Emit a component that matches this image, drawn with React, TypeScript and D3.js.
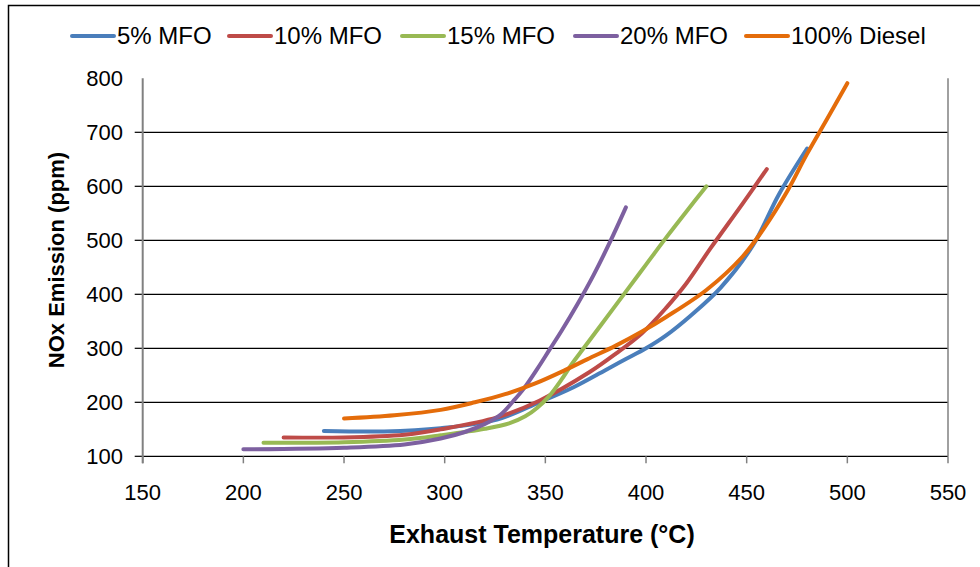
import React from "react";
import * as d3 from "d3";

const seriesNames = ["5% MFO", "10% MFO", "15% MFO", "20% MFO", "100% Diesel"];
const seriesColors = ["#4A7EBB", "#BE4B48", "#98B954", "#7D60A0", "#E46C0A"];

const mfo5: [number, number][] = [
  [240, 147], [270, 146], [298, 152], [326, 168], [347, 200], [364, 228], [380, 260],
  [390, 280], [400, 300], [410, 324], [422, 360], [437, 412], [453, 490], [466, 585], [480, 670],
];
const mfo10: [number, number][] = [
  [220, 135], [250, 135], [280, 140], [298, 150], [326, 172], [347, 203], [372, 256],
  [385, 290], [398, 328], [410, 375], [420, 420], [432, 485], [448, 568], [460, 632],
];
const mfo15: [number, number][] = [
  [210, 125], [250, 126], [280, 131], [298, 139], [320, 151], [332, 161], [340, 174],
  [346, 190], [352, 212], [358, 242], [363, 270], [369, 300], [377, 340], [390, 405],
  [400, 455], [410, 505], [420, 553], [430, 600],
];
const mfo20: [number, number][] = [
  [200, 113], [250, 116], [280, 122], [298, 133], [310, 145], [320, 160], [328, 178],
  [334, 202], [339, 224], [346, 262], [352, 297], [358, 332], [366, 382], [374, 436],
  [382, 496], [390, 561],
];
const diesel: [number, number][] = [
  [250, 170], [275, 176], [298, 186], [315, 200], [330, 215], [345, 235], [360, 260],
  [371, 280], [385, 305], [398, 331], [410, 358], [430, 408], [448, 470], [458, 519],
  [470, 590], [480, 660], [490, 725], [500, 791],
];
const seriesData = [mfo5, mfo10, mfo15, mfo20, diesel];

const xTicks = [150, 200, 250, 300, 350, 400, 450, 500, 550];
const yTicks = [100, 200, 300, 400, 500, 600, 700, 800];
const gridValues = [200, 300, 400, 500, 600, 700];

const legendLineX = [72, 229, 402, 575, 746];

export default function App() {
  const x = d3.scaleLinear().domain([150, 550]).range([142.7, 948]);
  const y = d3.scaleLinear().domain([100, 800]).range([456.3, 78.3]);
  const line = d3
    .line<[number, number]>()
    .x((d) => x(d[0]))
    .y((d) => y(d[1]))
    .curve(d3.curveCatmullRom.alpha(0.5));

  const font = "'Liberation Sans', Arial, sans-serif";

  return (
    <svg
      width={980}
      height={567}
      style={{ position: "absolute", left: 0, top: 0, background: "#fff" }}
      fontFamily={font}
    >
      <rect x={0} y={0} width={980} height={567} fill="#fff" />
      <rect x={8.5} y={5.5} width={1100} height={1100} fill="none" stroke="#000" strokeWidth={1.5} />

      {/* gridlines */}
      {gridValues.map((v) => (
        <line key={"g" + v} x1={x(150)} x2={x(550)} y1={y(v)} y2={y(v)} stroke="#000" strokeWidth={1.2} />
      ))}
      {/* y ticks */}
      {yTicks.filter((v) => v !== 800).map((v) => (
        <line key={"yt" + v} x1={x(150) - 8} x2={x(150)} y1={y(v)} y2={y(v)} stroke="#000" strokeWidth={1.2} />
      ))}
      {/* x axis */}
      <line x1={x(150)} x2={x(550)} y1={y(100)} y2={y(100)} stroke="#000" strokeWidth={1.2} />
      {xTicks.map((v) => (
        <line key={"xt" + v} x1={x(v)} x2={x(v)} y1={y(100)} y2={y(100) + 7} stroke="#808080" strokeWidth={1.5} />
      ))}
      {/* left axis */}
      <line x1={x(150)} x2={x(150)} y1={y(800)} y2={y(100) + 7} stroke="#808080" strokeWidth={2} />
      {/* right border */}
      <line x1={x(550)} x2={x(550)} y1={y(800)} y2={y(100)} stroke="#808080" strokeWidth={1.5} />

      {/* y tick labels */}
      {yTicks.map((v) => (
        <text key={"yl" + v} x={123} y={y(v)} dy="0.36em" textAnchor="end" fontSize={22} fill="#000">
          {v}
        </text>
      ))}
      {/* x tick labels */}
      {xTicks.map((v) => (
        <text key={"xl" + v} x={x(v)} y={500} textAnchor="middle" fontSize={22} fill="#000">
          {v}
        </text>
      ))}

      {/* series */}
      {seriesData.map((d, i) => (
        <path
          key={"s" + i}
          d={line(d) || ""}
          fill="none"
          stroke={seriesColors[i]}
          strokeWidth={4}
          strokeLinecap="round"
          strokeLinejoin="round"
        />
      ))}

      {/* axis titles */}
      <text x={542} y={543} textAnchor="middle" fontSize={25} fontWeight="bold" fill="#000">
        Exhaust Temperature (°C)
      </text>
      <text
        transform="translate(64,260) rotate(-90)"
        textAnchor="middle"
        fontSize={22}
        fontWeight="bold"
        fill="#000"
      >
        NOx Emission (ppm)
      </text>

      {/* legend */}
      {seriesNames.map((n, i) => (
        <g key={"l" + i}>
          <line
            x1={legendLineX[i]}
            x2={legendLineX[i] + 42}
            y1={36}
            y2={36}
            stroke={seriesColors[i]}
            strokeWidth={4}
            strokeLinecap="round"
          />
          <text x={legendLineX[i] + 45} y={44} fontSize={24} fill="#000">
            {n}
          </text>
        </g>
      ))}
    </svg>
  );
}
